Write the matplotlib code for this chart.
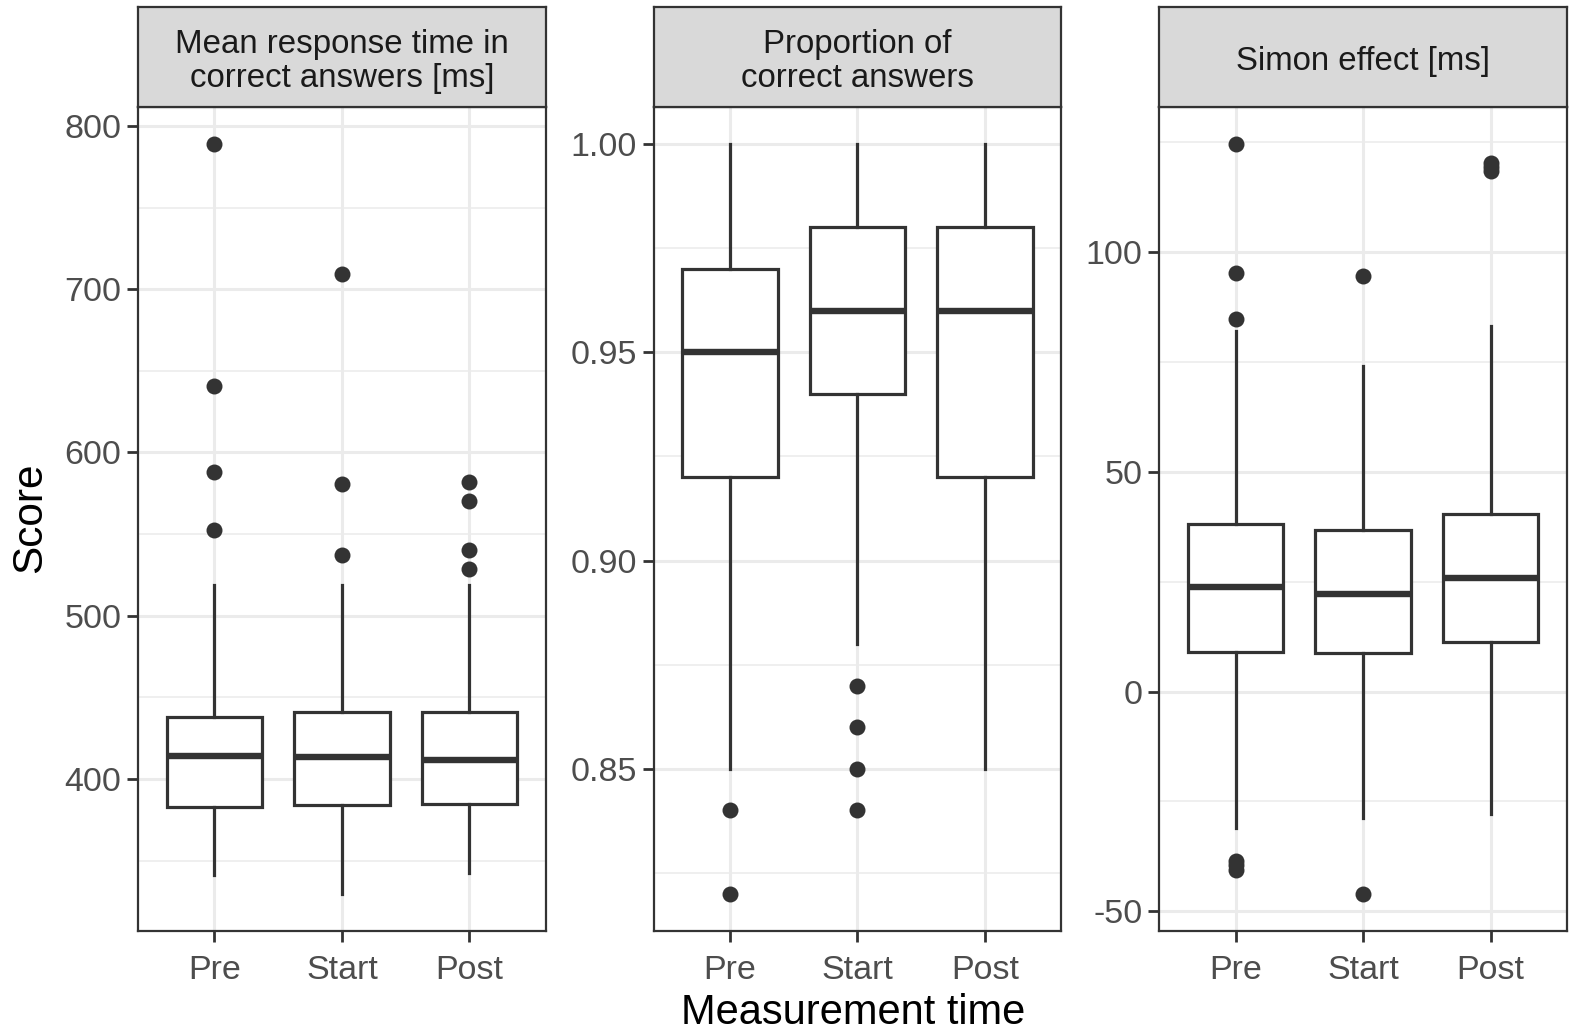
import matplotlib
matplotlib.use("Agg")
import matplotlib.pyplot as plt
from matplotlib.ticker import MultipleLocator, FormatStrFormatter

times = ["Pre", "Start", "Post"]
titles = ["Mean response time in\ncorrect answers [ms]", "Proportion of\ncorrect answers",
          "Simon effect [ms]"]

# mean response time [ms]
rt_whislo = [341.5, 329.7, 342.7]
rt_q1 = [382.7, 384.0, 384.6]
rt_med = [414.2, 413.6, 411.7]
rt_q3 = [438.2, 441.3, 441.3]
rt_whishi = [519.0, 519.0, 519.0]
rt_out = [[788.9, 641.0, 588.0, 552.8], [709.4, 580.6, 537.4], [581.8, 570.0, 540.5, 528.8]]

# proportion correct
pc_whislo = [0.85, 0.88, 0.85]
pc_q1 = [0.92, 0.94, 0.92]
pc_med = [0.95, 0.96, 0.96]
pc_q3 = [0.97, 0.98, 0.98]
pc_whishi = [1.00, 1.00, 1.00]
pc_out = [[0.84, 0.82], [0.87, 0.86, 0.85, 0.84], []]

# Simon effect [ms]
se_whislo = [-31.1, -28.8, -27.9]
se_q1 = [8.9, 8.7, 11.2]
se_med = [23.8, 22.2, 25.9]
se_q3 = [38.2, 36.8, 40.3]
se_whishi = [81.9, 74.1, 83.1]
se_out = [[124.5, 95.2, 84.7, -38.5, -39.5, -40.5], [94.5, -46.0], [120.3, 119.3, 118.3]]

panels = [
    (rt_whislo, rt_q1, rt_med, rt_q3, rt_whishi, rt_out, 100, "%.0f"),
    (pc_whislo, pc_q1, pc_med, pc_q3, pc_whishi, pc_out, 0.05, "%.2f"),
    (se_whislo, se_q1, se_med, se_q3, se_whishi, se_out, 50, "%.0f"),
]

DARK, TICKTXT, GRID = "#333333", "#4D4D4D", "#EBEBEB"
plt.rcParams.update({"font.family": ["Liberation Sans", "DejaVu Sans"],
                     "axes.unicode_minus": False})

fig = plt.figure(figsize=(15.79, 10.36), dpi=100)
lefts = [0.0874, 0.4139, 0.7341]
W, B, H = 0.2583, 0.1011, 0.796
SB, SH = 0.897, 0.0962

for left, title, (wlo, q1, med, q3, whi, out, step, fmt) in zip(lefts, titles, panels):
    ax = fig.add_axes([left, B, W, H])
    stats = [dict(whislo=a, q1=b, med=c, q3=d, whishi=e, fliers=f)
             for a, b, c, d, e, f in zip(wlo, q1, med, q3, whi, out)]
    ax.bxp(stats, positions=[1, 2, 3], widths=0.75, showcaps=False, patch_artist=True,
           boxprops=dict(facecolor="white", edgecolor=DARK, lw=2.3),
           whiskerprops=dict(color=DARK, lw=2.3),
           medianprops=dict(color=DARK, lw=4.6, solid_capstyle="butt"),
           flierprops=dict(marker="o", markerfacecolor=DARK, markeredgecolor="none",
                           markersize=11.5))
    vals = wlo + whi + [v for o in out for v in o]
    lo, hi = min(vals), max(vals)
    pad = 0.05 * (hi - lo)
    ax.set_ylim(lo - pad, hi + pad)
    ax.set_xlim(0.4, 3.6)
    ax.set_xticks([1, 2, 3])
    ax.set_xticklabels(times)
    ax.yaxis.set_major_locator(MultipleLocator(step))
    ax.yaxis.set_minor_locator(MultipleLocator(step / 2))
    ax.yaxis.set_major_formatter(FormatStrFormatter(fmt))
    ax.grid(which="major", color=GRID, lw=2.2)
    ax.grid(which="minor", axis="y", color=GRID, lw=1.1)
    ax.set_axisbelow(True)
    ax.tick_params(which="major", length=8, width=2, color=DARK, labelcolor=TICKTXT,
                   labelsize=24.5, pad=4)
    ax.tick_params(axis="x", which="major", pad=9)
    ax.tick_params(which="minor", length=0)
    for s in ax.spines.values():
        s.set_color(DARK)
        s.set_linewidth(1.6)

    sax = fig.add_axes([left, SB, W, SH])
    sax.set_facecolor("#D9D9D9")
    sax.set_xticks([]); sax.set_yticks([])
    for s in sax.spines.values():
        s.set_color(DARK)
        s.set_linewidth(1.6)
    sax.text(0.5, 0.45, title, ha="center", va="center", fontsize=23.8, color="#1A1A1A",
             linespacing=1.12, transform=sax.transAxes)

fig.text(0.019, 0.5, "Score", rotation=90, ha="center", va="center", fontsize=30.5)
fig.text(0.540, 0.022, "Measurement time", ha="center", va="center", fontsize=30)

fig.savefig("out.png", dpi=100, facecolor="white")
